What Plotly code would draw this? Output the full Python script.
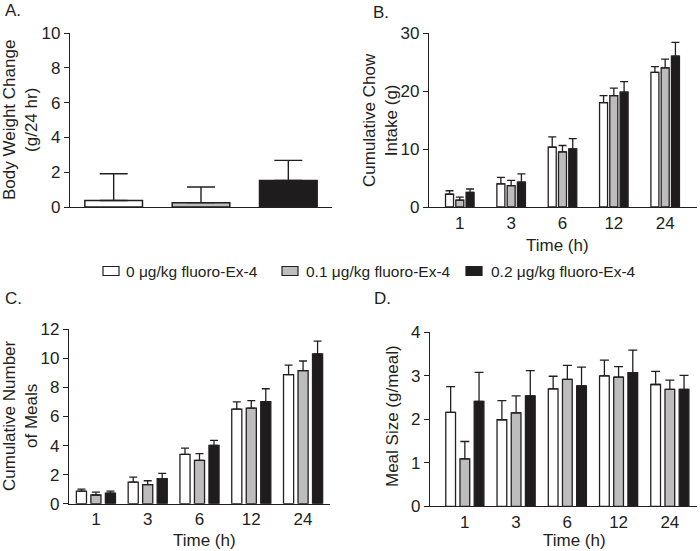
import plotly.graph_objects as go

# ---------------- data ----------------
times = ["1", "3", "6", "12", "24"]
doses = ["0 μg/kg fluoro-Ex-4", "0.1 μg/kg fluoro-Ex-4", "0.2 μg/kg fluoro-Ex-4"]

bw_mean = [0.37, 0.25, 1.53]
bw_sem = [1.54, 0.90, 1.15]

chow_0 = [2.2, 4.0, 10.3, 18.0, 23.2]
chow_0_sem = [0.6, 1.1, 1.8, 1.2, 1.0]
chow_01 = [1.2, 3.7, 9.5, 19.2, 24.0]
chow_01_sem = [0.5, 0.9, 1.1, 1.3, 1.5]
chow_02 = [2.5, 4.3, 10.0, 19.8, 26.0]
chow_02_sem = [0.6, 1.4, 1.8, 1.8, 2.4]

meals_0 = [0.87, 1.49, 3.39, 6.51, 8.88]
meals_0_sem = [0.13, 0.34, 0.44, 0.49, 0.66]
meals_01 = [0.60, 1.31, 2.98, 6.58, 9.15]
meals_01_sem = [0.20, 0.27, 0.46, 0.51, 0.67]
meals_02 = [0.73, 1.72, 4.01, 7.02, 10.3]
meals_02_sem = [0.14, 0.37, 0.35, 0.89, 0.89]

size_0 = [2.16, 1.99, 2.70, 3.00, 2.80]
size_0_sem = [0.59, 0.44, 0.29, 0.36, 0.30]
size_01 = [1.09, 2.15, 2.92, 2.97, 2.69]
size_01_sem = [0.40, 0.39, 0.32, 0.24, 0.21]
size_02 = [2.41, 2.54, 2.77, 3.07, 2.69]
size_02_sem = [0.67, 0.58, 0.43, 0.52, 0.32]

# ---------------- styling ----------------
INK = "#231f20"
FILLS = ["#ffffff", "#bdbdbd", "#1e1c1d"]
FONT = "Liberation Sans, Arial, sans-serif"
W, H = 700, 551


def px_x(p):
    return p / W


def px_y(p):
    return 1 - p / H


fig = go.Figure()

# Panel A
fig.add_trace(go.Bar(
    x=[0, 1, 2], y=bw_mean, width=0.66,
    marker=dict(color=FILLS, line=dict(color=INK, width=1.5)),
    error_y=dict(type="data", symmetric=False, array=bw_sem, arrayminus=[0, 0, 0],
                 color=INK, thickness=1.4, width=14),
    xaxis="x", yaxis="y", showlegend=False,
))


def add_panel(series, sems, xa, ya, slot, bw, cap):
    for k, (vals, err) in enumerate(zip(series, sems)):
        fig.add_trace(go.Bar(
            x=times, y=vals, name=doses[k],
            width=bw, offset=(k - 1) * slot - bw / 2,
            marker=dict(color=FILLS[k], line=dict(color=INK, width=1.3)),
            error_y=dict(type="data", symmetric=False, array=err,
                         arrayminus=[0] * len(vals), color=INK, thickness=1.3, width=cap),
            xaxis=xa, yaxis=ya, showlegend=False, legendgroup=doses[k],
        ))


add_panel([chow_0, chow_01, chow_02], [chow_0_sem, chow_01_sem, chow_02_sem],
          "x2", "y2", 0.2, 0.156, 4)
add_panel([meals_0, meals_01, meals_02], [meals_0_sem, meals_01_sem, meals_02_sem],
          "x3", "y3", 0.28, 0.195, 4)
add_panel([size_0, size_01, size_02], [size_0_sem, size_01_sem, size_02_sem],
          "x4", "y4", 0.277, 0.19, 4.5)

axis_common = dict(showline=True, linecolor=INK, linewidth=1.3, showgrid=False,
                   zeroline=False, automargin=False,
                   tickfont=dict(size=17, color=INK, family=FONT))
yax_common = dict(axis_common, ticks="outside", ticklen=5, tickwidth=1.3, tickcolor=INK)
xax_common = dict(axis_common, ticks="", type="category")

fig.update_layout(
    template="none",
    width=W, height=H, autosize=False,
    margin=dict(l=0, r=0, t=0, b=0, pad=0),
    paper_bgcolor="white", plot_bgcolor="white",
    font=dict(family=FONT, color=INK, size=17),
    barmode="group",
    showlegend=False,
    xaxis=dict(axis_common, ticks="", showticklabels=False, range=[-0.5, 2.5],
               domain=[px_x(70), px_x(332)], anchor="y"),
    yaxis=dict(yax_common, range=[0, 10], tickvals=[0, 2, 4, 6, 8, 10],
               domain=[px_y(207), px_y(33)], anchor="x"),
    xaxis2=dict(xax_common, range=[-0.6, 4.62], domain=[px_x(429), px_x(697)], anchor="y2"),
    yaxis2=dict(yax_common, range=[0, 30], tickvals=[0, 10, 20, 30],
                domain=[px_y(207), px_y(33)], anchor="x2"),
    xaxis3=dict(xax_common, range=[-0.52, 4.52], domain=[px_x(69), px_x(330)], anchor="y3"),
    yaxis3=dict(yax_common, range=[0, 12], tickvals=[0, 2, 4, 6, 8, 10, 12],
                domain=[px_y(503.7), px_y(329.3)], anchor="x3"),
    xaxis4=dict(xax_common, range=[-0.68, 4.53], domain=[px_x(430), px_x(697)], anchor="y4"),
    yaxis4=dict(yax_common, range=[0, 4], tickvals=[0, 1, 2, 3, 4],
                domain=[px_y(506.3), px_y(332.3)], anchor="x4"),
)

# shared legend (key boxes + labels)
legend_box_x = [103, 282, 466]
legend_text_x = [124, 304, 489]
for k in range(3):
    fig.add_shape(type="rect", xref="paper", yref="paper",
                  x0=px_x(legend_box_x[k]), x1=px_x(legend_box_x[k] + 16),
                  y0=px_y(275.5), y1=px_y(266.5),
                  fillcolor=FILLS[k], line=dict(color=INK, width=1.2))
    fig.add_annotation(text=doses[k], x=px_x(legend_text_x[k]), y=px_y(271),
                       xref="paper", yref="paper", xanchor="left", yanchor="middle",
                       showarrow=False, font=dict(size=15.5, color=INK, family=FONT))

annos = [
    ("A.", 3, 11, 0, "left"),
    ("B.", 371, 12, 0, "left"),
    ("C.", 3, 298, 0, "left"),
    ("D.", 372, 298, 0, "left"),
    ("Body Weight Change<br>(g/24 hr)", 20, 120, -90, "center"),
    ("Cumulative Chow<br>Intake (g)", 380, 120, -90, "center"),
    ("Cumulative Number<br>of Meals", 20, 416, -90, "center"),
    ("Meal Size (g/meal)", 392, 416, -90, "center"),
    ("Time (h)", 557, 245, 0, "center"),
    ("Time (h)", 204, 540, 0, "center"),
    ("Time (h)", 574, 540, 0, "center"),
]
for text, x, y, ang, xa in annos:
    fig.add_annotation(text=text, x=px_x(x), y=px_y(y), xref="paper", yref="paper",
                       xanchor=xa, yanchor="middle", textangle=ang, showarrow=False,
                       font=dict(size=17, color=INK, family=FONT))

fig.write_html("out.html", config={"displayModeBar": False},
               post_script="document.body.style.margin='0';")
